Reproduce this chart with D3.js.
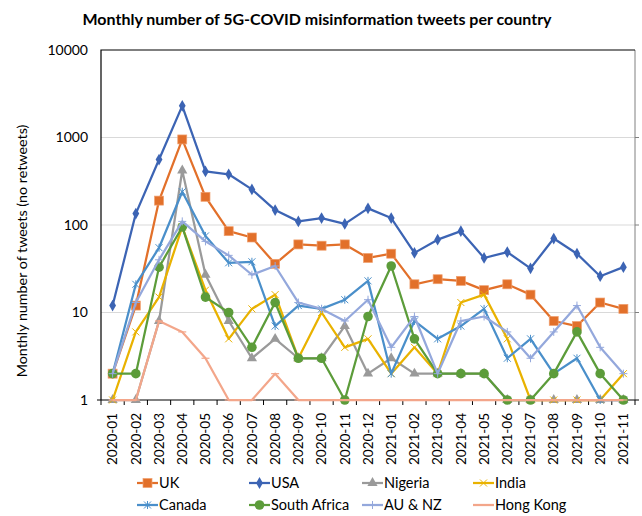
<!DOCTYPE html>
<html>
<head>
<script src="https://d3js.org/d3.v7.min.js"></script>
<style>
  body { margin: 0; background: #fff; }
  text { font-family: Lato, "Open Sans", sans-serif; fill: #000; }
</style>
</head>
<body>
<div id="chart"></div>
<script>
  var months = ["2020-01","2020-02","2020-03","2020-04","2020-05","2020-06","2020-07","2020-08",
    "2020-09","2020-10","2020-11","2020-12","2021-01","2021-02","2021-03","2021-04","2021-05",
    "2021-06","2021-07","2021-08","2021-09","2021-10","2021-11"];

  var uk       = [2, 12, 190, 950, 210, 85, 72, 36, 60, 58, 60, 42, 47, 21, 24, 23, 18, 21, 16, 8, 7, 13, 11];
  var usa      = [12, 135, 560, 2300, 410, 380, 255, 148, 110, 120, 103, 155, 120, 48, 68, 85, 42, 49, 32, 70, 47, 26, 33];
  var nigeria  = [1, 1, 8, 420, 27, 8, 3, 5, 3, 3, 7, 2, 3, 2, 2, 2, 2, 1, 1, 1, 1, 1, 1];
  var india    = [1, 6, 15, 95, 18, 5, 11, 16, 3, 10, 4, 5, 2, 4, 2, 13, 16, 5, 1, 1, 1, 1, 2];
  var canada   = [2, 21, 55, 240, 75, 37, 38, 7, 12, 11, 14, 23, 2, 8, 5, 7, 11, 3, 5, 2, 3, 1, 1];
  var southAfrica = [2, 2, 33, 95, 15, 10, 4, 13, 3, 3, 1, 9, 34, 5, 2, 2, 2, 1, 1, 2, 6, 2, 1];
  var auNz     = [2, 13, 40, 110, 65, 45, 27, 34, 13, 11, 8, 14, 4, 9, 2, 8, 9, 6, 3, 6, 12, 4, 2];
  var hongKong = [1, 1, 8, 6, 3, 1, 1, 2, 1, 1, 1, 1, 1, 1, 1, 1, 1, 1, 1, 1, 1, 1, 1];

  var yTicks = [1, 10, 100, 1000, 10000];

  var series = [
    {name: "UK", values: uk, color: "#e2702a", marker: "square"},
    {name: "USA", values: usa, color: "#3c64b4", marker: "diamond"},
    {name: "Nigeria", values: nigeria, color: "#9a9a9a", marker: "triangle"},
    {name: "India", values: india, color: "#e9b200", marker: "x"},
    {name: "Canada", values: canada, color: "#4a8fca", marker: "star"},
    {name: "South Africa", values: southAfrica, color: "#5c9c3a", marker: "circle"},
    {name: "AU & NZ", values: auNz, color: "#94a8dc", marker: "plus"},
    {name: "Hong Kong", values: hongKong, color: "#f3a68a", marker: "dash"}
  ];

  var width = 642, height = 516;
  var plot = {left: 101, right: 635, top: 50, bottom: 400};

  var svg = d3.select("#chart").append("svg")
    .attr("width", width)
    .attr("height", height);

  var x = d3.scaleBand().domain(months).range([plot.left, plot.right]);
  var y = d3.scaleLog().domain([1, 10000]).range([plot.bottom, plot.top]);
  var cx = function(i) { return x(months[i]) + x.bandwidth() / 2; };

  // title
  svg.append("text")
    .attr("x", 317).attr("y", 25)
    .attr("text-anchor", "middle")
    .style("font-size", "16px").style("font-weight", "bold")
    .text("Monthly number of 5G-COVID misinformation tweets per country");

  // gridlines
  svg.append("g").selectAll("line")
    .data(yTicks.slice(1, 4))
    .enter().append("line")
      .attr("x1", plot.left).attr("x2", plot.right)
      .attr("y1", function(d) { return y(d); }).attr("y2", function(d) { return y(d); })
      .attr("stroke", "#d9d9d9").attr("stroke-width", 1);

  // y axis labels
  var yAxis = d3.axisLeft(y).tickValues(yTicks).tickFormat(d3.format("d")).tickSize(0).tickPadding(13);
  var gy = svg.append("g").attr("transform", "translate(" + plot.left + ",0)").call(yAxis);
  gy.select(".domain").remove();
  gy.selectAll("text").style("font-size", "14px").style("font-family", "Lato, sans-serif");

  // right border with small ticks
  svg.append("line")
    .attr("x1", plot.right).attr("x2", plot.right).attr("y1", plot.top).attr("y2", plot.bottom)
    .attr("stroke", "#808080").attr("stroke-width", 1);
  svg.append("g").selectAll("line")
    .data(yTicks.slice(1, 4))
    .enter().append("line")
      .attr("x1", plot.right).attr("x2", plot.right + 4)
      .attr("y1", function(d) { return y(d); }).attr("y2", function(d) { return y(d); })
      .attr("stroke", "#808080");

  // top and left borders
  svg.append("path")
    .attr("d", "M" + plot.left + "," + plot.bottom + "V" + plot.top + "H" + plot.right)
    .attr("fill", "none").attr("stroke", "#000").attr("stroke-width", 1.2);

  // x axis
  var gx = svg.append("g").attr("transform", "translate(0," + plot.bottom + ")");
  gx.append("line")
    .attr("x1", plot.left - 4).attr("x2", plot.right + 4)
    .attr("stroke", "#000").attr("stroke-width", 1.2);
  var boundaries = months.map(function(m) { return x(m); }).concat([plot.right]);
  gx.selectAll(".tick-line")
    .data(boundaries)
    .enter().append("line")
      .attr("class", "tick-line")
      .attr("x1", function(d) { return d; }).attr("x2", function(d) { return d; })
      .attr("y1", 0).attr("y2", 5)
      .attr("stroke", "#000");
  gx.selectAll(".tick-label")
    .data(months)
    .enter().append("text")
      .attr("class", "tick-label")
      .attr("transform", function(d) { return "translate(" + (x(d) + x.bandwidth() / 2) + ",13) rotate(-90)"; })
      .attr("text-anchor", "end")
      .attr("dy", "0.35em")
      .style("font-size", "13.5px")
      .text(function(d) { return d; });

  // y title
  svg.append("text")
    .attr("transform", "translate(22,251) rotate(-90)")
    .attr("text-anchor", "middle")
    .attr("dy", "0.35em")
    .style("font-size", "14.3px")
    .text("Monthly number of tweets (no retweets)");

  function drawMarker(g, type, color, px, py) {
    if (type === "square") {
      g.append("rect").attr("x", px - 4.5).attr("y", py - 4.5).attr("width", 9).attr("height", 9)
        .attr("fill", color).attr("stroke", "#f0a070").attr("stroke-width", 0.7);
    } else if (type === "diamond") {
      g.append("path").attr("d", d3.symbol().type(d3.symbolDiamond).size(40)())
        .attr("transform", "translate(" + px + "," + py + ")").attr("fill", color);
    } else if (type === "triangle") {
      g.append("path").attr("d", d3.symbol().type(d3.symbolTriangle).size(45)())
        .attr("transform", "translate(" + px + "," + py + ")").attr("fill", color);
    } else if (type === "circle") {
      g.append("circle").attr("cx", px).attr("cy", py).attr("r", 4.8).attr("fill", color);
    } else if (type === "x") {
      g.append("path").attr("d", "M-3.5,-3.5L3.5,3.5M-3.5,3.5L3.5,-3.5")
        .attr("transform", "translate(" + px + "," + py + ")")
        .attr("stroke", color).attr("stroke-width", 1).attr("fill", "none");
    } else if (type === "star") {
      g.append("path").attr("d", "M-3.5,-3.5L3.5,3.5M-3.5,3.5L3.5,-3.5M0,-4V4")
        .attr("transform", "translate(" + px + "," + py + ")")
        .attr("stroke", color).attr("stroke-width", 1).attr("fill", "none");
    } else if (type === "plus") {
      g.append("path").attr("d", "M-4,0H4M0,-4V4")
        .attr("transform", "translate(" + px + "," + py + ")")
        .attr("stroke", color).attr("stroke-width", 1).attr("fill", "none");
    } else if (type === "dash") {
      g.append("path").attr("d", "M-4,0H4")
        .attr("transform", "translate(" + px + "," + py + ")")
        .attr("stroke", color).attr("stroke-width", 1.2).attr("fill", "none");
    }
  }

  var line = d3.line()
    .x(function(d, i) { return cx(i); })
    .y(function(d) { return y(d); });

  series.forEach(function(s) {
    var g = svg.append("g");
    g.append("path")
      .datum(s.values)
      .attr("d", line)
      .attr("fill", "none")
      .attr("stroke", s.color)
      .attr("stroke-width", 2.25)
      .attr("stroke-linejoin", "round");
    s.values.forEach(function(v, i) {
      drawMarker(g, s.marker, s.color, cx(i), y(v));
    });
  });

  // legend
  var legendCols = [137, 249, 362, 473];
  var legendRows = [483, 505];
  series.forEach(function(s, i) {
    var lx = legendCols[i % 4], ly = legendRows[Math.floor(i / 4)];
    var g = svg.append("g");
    g.append("line")
      .attr("x1", lx).attr("x2", lx + 21).attr("y1", ly).attr("y2", ly)
      .attr("stroke", s.color).attr("stroke-width", 2.25);
    if (s.marker !== "dash") drawMarker(g, s.marker, s.color, lx + 10.5, ly);
    g.append("text")
      .attr("x", lx + 22).attr("y", ly)
      .attr("dy", "0.35em")
      .style("font-size", "14.5px")
      .text(s.name);
  });
</script>
</body>
</html>
